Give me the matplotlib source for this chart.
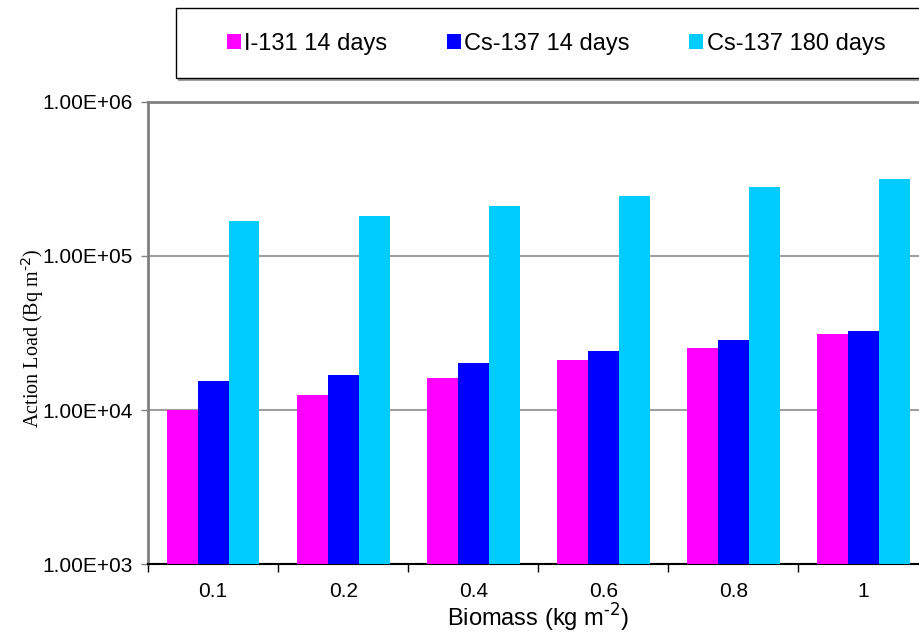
import numpy as np
import matplotlib.pyplot as plt
from matplotlib.patches import Rectangle

categories = ['0.1', '0.2', '0.4', '0.6', '0.8', '1']
i131_14 = [1.00e4, 1.26e4, 1.61e4, 2.11e4, 2.52e4, 3.11e4]
cs137_14 = [1.54e4, 1.69e4, 2.01e4, 2.40e4, 2.83e4, 3.24e4]
cs137_180 = [1.69e5, 1.82e5, 2.12e5, 2.44e5, 2.80e5, 3.13e5]
series_names = ['I-131 14 days', 'Cs-137 14 days', 'Cs-137 180 days']
colors = ['#FF00FF', '#0000FF', '#00CCFF']

plt.rcParams['font.family'] = ['Liberation Sans', 'DejaVu Sans']

fig = plt.figure(figsize=(9.2, 6.33), dpi=100)
W, H = 920, 633
# plot area runs slightly past the right edge of the picture
ax = fig.add_axes([148 / W, (H - 564.3) / H, 780.6 / W, 462.6 / H])

x = np.arange(len(categories))
bw = 0.238
bars = []
for k, vals in enumerate([i131_14, cs137_14, cs137_180]):
    b = ax.bar(x + (k - 1) * bw, vals, width=bw, color=colors[k],
               label=series_names[k], zorder=3)
    bars.append(b)

ax.set_yscale('log')
ax.set_ylim(1e3, 1e6)
ax.set_xlim(-0.5, len(categories) - 0.5)
ax.set_yticks([1e3, 1e4, 1e5, 1e6])
ax.set_yticklabels(['1.00E+03', '1.00E+04', '1.00E+05', '1.00E+06'])
ax.yaxis.set_minor_locator(plt.NullLocator())
ax.grid(axis='y', color='#a0a0a0', linewidth=1.5, zorder=0)
ax.tick_params(axis='y', labelsize=15, length=5, color='#808080', width=1, pad=6)

ax.set_xticks(x)
ax.set_xticklabels(categories)
ax.set_xticks(np.arange(len(categories) + 1) - 0.5, minor=True)
ax.tick_params(axis='x', which='major', length=0, labelsize=15, pad=13)
ax.tick_params(axis='x', which='minor', length=6, color='black', width=1)

for s in ['left', 'top', 'right']:
    ax.spines[s].set_color('#808080')
    ax.spines[s].set_linewidth(2)
ax.spines['bottom'].set_color('black')
ax.spines['bottom'].set_linewidth(1.5)

ax.set_ylabel('Action Load (Bq m$^{\\text{-2}}$)',
              family=['Liberation Serif', 'DejaVu Serif'], fontsize=14.5)
ax.yaxis.set_label_coords(-0.131, 0.489)
ax.set_xlabel('Biomass (kg m$^{\\text{-2}}$)', fontsize=17, labelpad=0)

# legend box with a light shadow
fig.patches.append(Rectangle((178 / W, (H - 80.5) / H), 760 / W, 70 / H,
                             transform=fig.transFigure, facecolor='#a0a0a0',
                             edgecolor='none', zorder=0))
fig.patches.append(Rectangle((176 / W, (H - 78.3) / H), 760 / W, 70 / H,
                             transform=fig.transFigure, facecolor='white',
                             edgecolor='black', linewidth=1, zorder=1))
fig.legend(handles=bars, labels=series_names, loc='center',
           bbox_to_anchor=(556 / W, (H - 44) / H), ncol=3, frameon=False,
           fontsize=17, handlelength=0.6, handleheight=0.6, handletextpad=0.15,
           columnspacing=2.5)

fig.savefig('out.png', dpi=100)
